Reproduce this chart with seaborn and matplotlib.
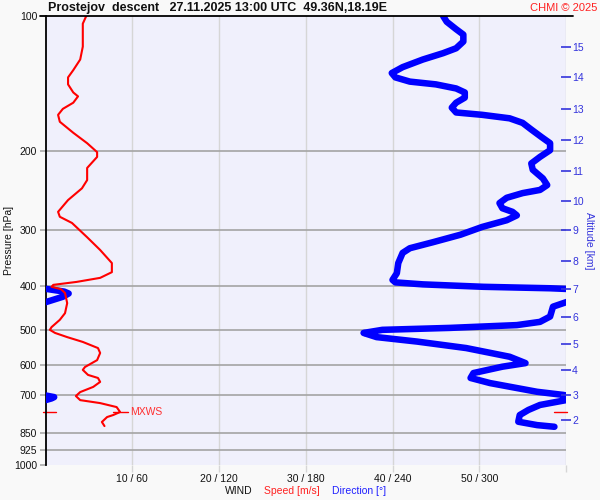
import numpy as np
import matplotlib
matplotlib.use("Agg")
import matplotlib.pyplot as plt
import matplotlib.ticker as mticker
import seaborn as sns

# ---- wind speed profile (pressure hPa, speed m/s) ----
speed_p = [100, 104, 117, 125, 132, 137, 142, 148, 151, 156, 161, 166, 172, 182, 192,
           201, 206, 218, 232, 242, 257, 273, 280, 289, 311, 332, 355, 372, 383, 391,
           397, 401, 406, 414, 436, 459, 475, 493, 500, 508, 519, 532, 549, 563, 584,
           605, 614, 630, 640, 653, 670, 688, 702, 717, 728, 743, 762, 774, 782, 802, 819]
speed_ms = [4.7, 4.3, 4.3, 4.0, 3.2, 2.6, 2.6, 3.2, 3.75, 3.2, 2.0, 1.45, 1.65, 3.2, 4.8,
            5.95, 5.95, 4.8, 4.8, 4.2, 2.6, 1.45, 1.65, 3.05, 4.8, 6.3, 7.65, 7.65, 6.3, 3.6,
            0.9, 0.7, 1.8, 2.25, 2.5, 2.25, 1.65, 0.7, 0.5, 1.1, 2.5, 4.3, 6.05, 6.3, 5.95,
            4.55, 4.3, 4.9, 6.05, 6.3, 5.5, 4.0, 3.5, 4.0, 6.3, 8.2, 8.6, 7.8, 7.1, 6.5, 6.8]

# ---- wind direction profile (pressure hPa, direction deg) ----
dir_p = [100, 103, 107, 110, 114, 118, 121, 125, 130, 134, 137, 140, 142, 145, 148,
         152, 156, 160, 164, 166, 169, 173, 179, 186, 192, 199, 206, 213, 220, 230,
         238, 244, 248, 254, 261, 268, 273, 278, 285, 295, 307, 319, 329, 337, 355,
         374, 387, 392, 396, 401, 404, 405.5, 411, 415, 422, 434, 444, 467, 480, 488,
         495, 500, 508, 519, 531, 549, 574, 593, 604, 624, 640, 657, 687, 698, 706,
         711, 717, 719, 735, 754, 774, 801, 815, 822]
dir_deg = [275, 277.5, 284, 289, 289, 284, 275, 261, 247, 239.5, 242, 252, 270, 284, 290,
           290, 284, 281, 284, 302, 321, 330, 336, 343, 349, 349, 342, 336, 337, 344,
           347, 342, 330, 319, 314, 316, 323, 326, 319, 302, 287, 268, 252, 247, 244,
           243, 240, 242, 261, 303, 349, 1, 13, 16, 12, 0, 351, 349, 342, 326,
           280, 233, 220, 229, 257, 291, 321, 332, 316, 296, 294, 307.5, 340, 358, 6,
           4, 0, 358, 342, 334, 328, 327, 340, 352]

# ---- axes definitions ----
p_ticks = [100, 200, 300, 400, 500, 600, 700, 850, 925, 1000]
p_grid = [200, 300, 400, 500, 600, 700, 850, 925]
x_ticks = [10, 20, 30, 40, 50, 60]
x_labels = ["10 / 60", "20 / 120", "30 / 180", "40 / 240", "50 / 300", ""]
alt_km = [2, 3, 4, 5, 6, 7, 8, 9, 10, 11, 12, 13, 14, 15]
alt_p = [794, 698, 614, 538, 468, 405, 351, 300, 258, 221, 189, 161, 137, 117]
mxws_p = 762
mxws_speed = 8.6

sns.set_theme(style="white")
plt.rcParams["font.family"] = ["Liberation Sans", "DejaVu Sans"]

RED = "#ff0000"
BLUE = "#0000ff"
ALTBLUE = "#3434dc"

fig = plt.figure(figsize=(6, 5), dpi=100, facecolor="#f9f9f9")
ax = fig.add_axes([45.5 / 600, 1 - 465 / 500, (566 - 45.5) / 600, (465 - 16) / 500])
ax.set_facecolor("#f0f0fc")
ax.set_yscale("log")
ax.set_ylim(1000, 100)
ax.set_xlim(0, 60)

# grid
for xv in x_ticks:
    ax.axvline(xv, color="#d6d6d6", lw=1.0, zorder=0.5)
for pv in p_grid:
    ax.axhline(pv, color="#a4a4a4", lw=1.2, zorder=0.6)

# direction (wrapped at 360 deg); 60 m/s <-> 360 deg
unwrapped = np.unwrap(np.array(dir_deg, dtype=float), period=360)
for shift in (0, 360):
    sns.lineplot(x=(unwrapped - shift) / 6.0, y=dir_p, orient="y", sort=False,
                 estimator=None, color=BLUE, lw=4.7, ax=ax, zorder=3,
                 solid_capstyle="round", solid_joinstyle="round")

# speed
sns.lineplot(x=speed_ms, y=speed_p, orient="y", sort=False, estimator=None,
             color=RED, lw=1.5, ax=ax, zorder=4)

# MXWS markers
ax.plot([mxws_speed - 0.8, mxws_speed + 0.9], [mxws_p, mxws_p], color=RED, lw=1, zorder=4)
ax.text(mxws_speed + 1.1, mxws_p, "MXWS", color="#ff3030", fontsize=7.5,
        va="center", ha="left", zorder=5)
ytr = ax.get_yaxis_transform()
ax.plot([-0.005, 0.02], [mxws_p, mxws_p], color=RED, lw=1, transform=ytr, clip_on=False)
ax.plot([0.977, 1.002], [mxws_p, mxws_p], color=RED, lw=1, transform=ytr, clip_on=False)

# spines / ticks
for s in ("top", "right", "bottom"):
    ax.spines[s].set_visible(False)
ax.spines["left"].set_color("black")
ax.spines["left"].set_linewidth(1.3)
ax.plot([-0.01, 1.014], [1, 1], color="black", lw=1.3, transform=ax.transAxes,
        clip_on=False, zorder=6)

ax.yaxis.set_major_locator(mticker.FixedLocator(p_ticks))
ax.yaxis.set_major_formatter(mticker.FixedFormatter([str(v) for v in p_ticks]))
ax.yaxis.set_minor_locator(mticker.NullLocator())
ax.tick_params(axis="y", which="major", length=4, width=1.1, color="#a4a4a4",
               labelsize=7.5, labelcolor="#111111", pad=2, left=True)
ax.set_xticks(x_ticks)
ax.set_xticklabels(x_labels)
ax.tick_params(axis="x", length=5, width=1, color="#d6d6d6", labelsize=7.5,
               labelcolor="#111111", pad=1.5, bottom=True)
ax.set_xlabel("")
ax.set_ylabel("Pressure [hPa]", fontsize=7.5, color="#111111", labelpad=0)

# altitude axis
ax2 = ax.twinx()
ax2.set_yscale("log")
ax2.set_ylim(1000, 100)
ax2.yaxis.set_major_locator(mticker.FixedLocator(alt_p))
ax2.yaxis.set_major_formatter(mticker.FixedFormatter([str(k) for k in alt_km]))
ax2.yaxis.set_minor_locator(mticker.NullLocator())
for s in ax2.spines.values():
    s.set_visible(False)
ax2.tick_params(axis="y", which="major", direction="inout", length=7, width=1.2,
                color=ALTBLUE, labelcolor=ALTBLUE, labelsize=7.5, pad=1, right=True)
ax2.set_ylabel("Altitude [km]", rotation=270, color=ALTBLUE, fontsize=7.5, labelpad=7)
ax2.grid(False)

# texts
fig.text(48 / 600, 1 - 8 / 500, "Prostejov  descent   27.11.2025 13:00 UTC  49.36N,18.19E",
         fontsize=9, fontweight="bold", color="#111111", va="center", ha="left")
fig.text(597 / 600, 1 - 8 / 500, "CHMI \u00a9 2025", fontsize=8, color="#ff2020",
         va="center", ha="right")
fig.text(225 / 600, 1 - 491 / 500, "WIND", fontsize=7.5, color="#111111", va="center", ha="left")
fig.text(264 / 600, 1 - 491 / 500, "Speed [m/s]", fontsize=7.5, color="#ff2020", va="center", ha="left")
fig.text(332 / 600, 1 - 491 / 500, "Direction [\u00b0]", fontsize=7.5, color="#2020ff", va="center", ha="left")

fig.savefig("out.png", dpi=100, facecolor=fig.get_facecolor())
